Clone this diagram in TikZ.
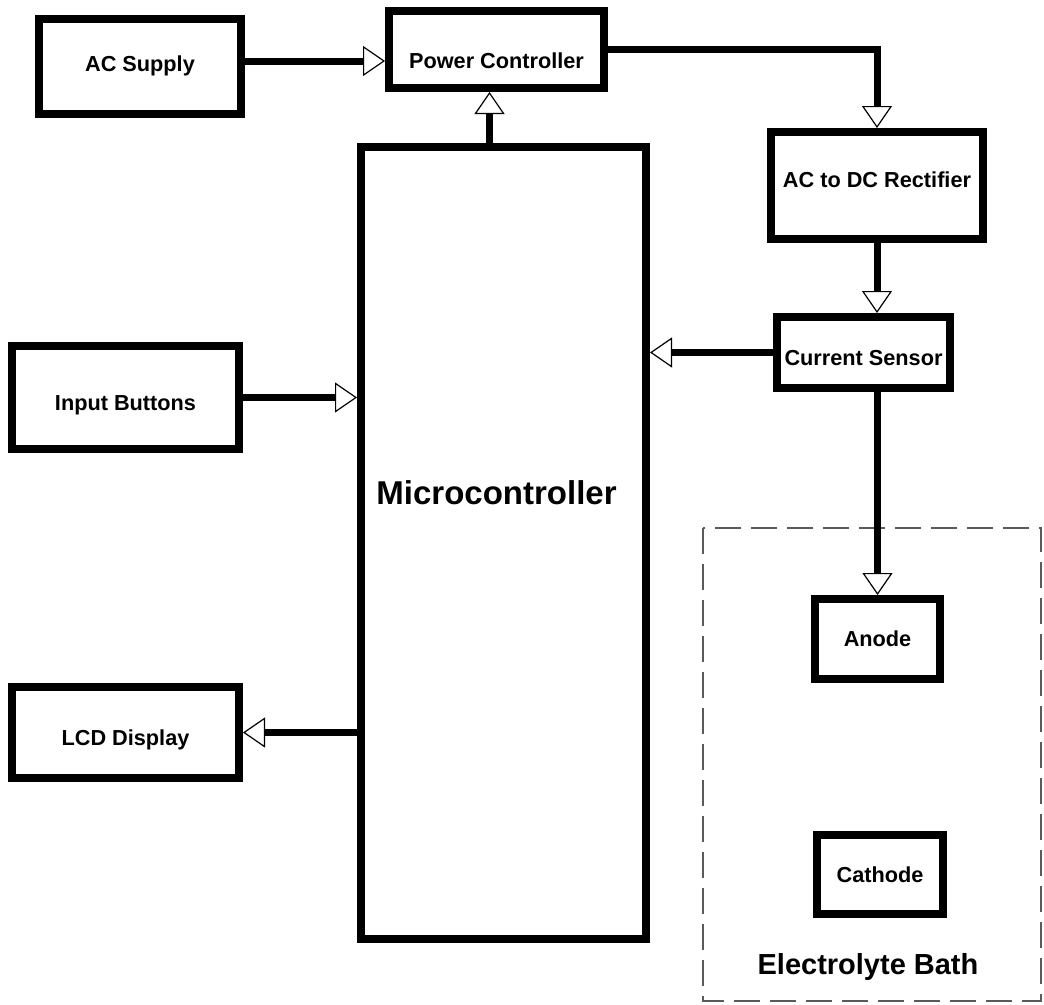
\documentclass[tikz,border=0pt]{standalone}
\usepackage{fontspec}
\setmainfont{Liberation Sans}
\usetikzlibrary{arrows.meta, positioning}
\definecolor{gris}{RGB}{90,90,90}

\tikzset{
  bloc/.style={draw, line width=8pt, inner sep=0pt, font=\fontsize{21.7}{26}\selectfont\bfseries},
  bas/.style={text height=26.5pt, text depth=0pt},
  flux/.style={line width=7pt, -{Triangle[open, fill=white, length=22pt, width=30pt, line width=1.2pt]}},
}

\begin{document}
\begin{tikzpicture}[x=1pt, y=-1pt]
\useasboundingbox (0,0) rectangle (1044,1004);
% bain (en pointilles)
\draw[gris, line width=2.5pt, dash pattern=on 26pt off 10pt] (703,528) rectangle (1041,1001);
\node[font=\fontsize{29}{34}\selectfont\bfseries] (bath) at (868,967) {Electrolyte Bath};
% blocs
\node[bloc, minimum width=202pt, minimum height=95pt] (acs) at (140,66) {AC Supply};
\node[bloc, minimum width=215pt, minimum height=77pt, text height=38.5pt, text depth=0pt] (pwr) at (496.5,49.5) {Power Controller};
\node[bloc, minimum width=285pt, minimum height=792pt,
      label={[font=\fontsize{33}{40}\selectfont\bfseries, yshift=50pt, xshift=-7pt]center:Microcontroller}] (mcu) at (503.5,543) {};
\node[bloc, minimum width=212pt, minimum height=107pt, text height=4.5pt, text depth=0pt] (rect) at (877,185.5) {AC to DC Rectifier};
\node[bloc, bas, minimum width=173pt, minimum height=71pt] (cs) at (863.5,352.5) {Current Sensor};
\node[bloc, bas, minimum width=227pt, minimum height=103pt] (inb) at (125.5,397.5) {Input Buttons};
\node[bloc, bas, minimum width=227pt, minimum height=91pt] (lcd) at (125.5,732.5) {LCD Display};
\node[bloc, minimum width=125pt, minimum height=80pt] (anode) at (877.5,639) {Anode};
\node[bloc, minimum width=126pt, minimum height=79pt] (cathode) at (880,874.5) {Cathode};
% liaisons
\draw[flux] ([yshift=5pt]acs.east) -- ([yshift=5pt]acs.east -| pwr.west);
\draw[flux] (pwr.east) -| (rect.north);
\draw[flux] ([xshift=-7pt]pwr.south |- mcu.north) -- ([xshift=-7pt]pwr.south);
\draw[flux] (rect.south) -- (rect.south |- cs.north);
\draw[flux] (cs.west) -- (cs.west -| mcu.east);
\draw[flux] (inb.east) -- (inb.east -| mcu.west);
\draw[flux] (lcd.east -| mcu.west) -- (lcd.east);
\draw[flux] (cs.south -| anode.north) -- (anode.north);
\end{tikzpicture}
\end{document}
